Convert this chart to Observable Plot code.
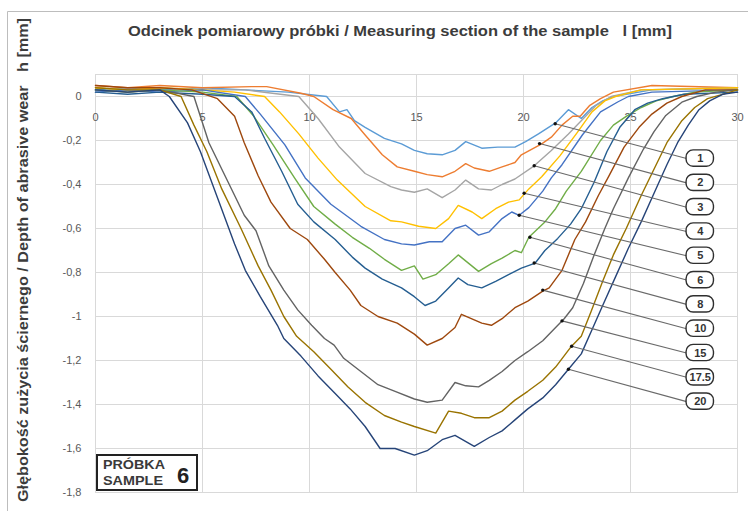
<!DOCTYPE html>
<html>
<head>
<meta charset="utf-8">
<script src="https://cdn.jsdelivr.net/npm/d3@7"></script>
<script src="https://cdn.jsdelivr.net/npm/@observablehq/plot@0.6"></script>
<style>
html, body { margin: 0; padding: 0; background: #fff; }
#chart { position: relative; width: 748px; height: 511px; overflow: hidden; }
</style>
</head>
<body>
<div id="chart"></div>
<script>
// ---- data ----
const seriesNames = ["1", "2", "3", "4", "5", "6", "8", "10", "15", "17.5", "20"];
const seriesColors = ["#5B9BD5", "#ED7D31", "#A5A5A5", "#FFC000", "#4472C4", "#70AD47",
                      "#255E91", "#9E480E", "#636363", "#997300", "#264478"];

const depth_1 = [[0,0.03],[1.5,0.04],[3,0.03],[5,0.04],[7,0.03],[9,0.02],[10.8,0.0],[11.4,-0.07],[11.75,-0.06],[12.1,-0.11],[12.6,-0.14],[13.5,-0.19],[14.3,-0.215],[14.9,-0.245],[15.5,-0.26],[16.2,-0.265],[16.8,-0.245],[17.3,-0.205],[18.05,-0.235],[18.8,-0.23],[19.6,-0.23],[20.1,-0.205],[20.7,-0.17],[21.5,-0.12],[22.1,-0.06],[22.7,-0.10],[23.2,-0.05],[23.7,-0.02],[24.2,0.0],[26,0.03],[30,0.04]];
const depth_2 = [[0,0.05],[1.5,0.04],[3,0.05],[5,0.04],[7.3,0.045],[8,0.045],[9.6,0.015],[10.2,0.0],[11.1,-0.06],[11.95,-0.10],[12.6,-0.175],[13.4,-0.265],[14.1,-0.32],[14.9,-0.34],[15.5,-0.355],[16.2,-0.365],[16.8,-0.34],[17.3,-0.305],[17.7,-0.325],[18.4,-0.34],[19.0,-0.32],[19.6,-0.30],[19.9,-0.265],[20.85,-0.215],[21.3,-0.185],[21.8,-0.13],[22.3,-0.09],[22.65,-0.09],[23.1,-0.04],[23.6,-0.01],[24.2,0.02],[26,0.05],[30,0.04]];
const depth_3 = [[0,0.04],[1.5,0.03],[3,0.04],[5,0.03],[7,0.03],[9.5,0.0],[10.4,-0.10],[11.4,-0.23],[12.6,-0.35],[13.8,-0.41],[14.3,-0.425],[14.9,-0.435],[15.5,-0.42],[16.2,-0.46],[16.8,-0.425],[17.3,-0.38],[17.9,-0.42],[18.5,-0.425],[19.0,-0.40],[19.6,-0.375],[20.5,-0.315],[21.3,-0.245],[22.1,-0.17],[22.8,-0.10],[23.4,-0.04],[24.1,0.0],[25.5,0.03],[30,0.04]];
const depth_4 = [[0,0.04],[1.5,0.03],[3,0.04],[5,0.03],[6.5,0.02],[7.9,0.0],[8.6,-0.07],[9.5,-0.17],[10.4,-0.28],[11.3,-0.38],[12.6,-0.50],[13.8,-0.565],[14.3,-0.57],[15.1,-0.59],[15.9,-0.60],[16.5,-0.555],[16.95,-0.495],[17.6,-0.525],[18.05,-0.555],[18.7,-0.51],[19.3,-0.48],[19.8,-0.47],[20.25,-0.42],[20.85,-0.365],[21.7,-0.27],[22.5,-0.165],[23.2,-0.07],[23.8,-0.02],[24.3,0.0],[25.5,0.03],[30,0.04]];
const depth_5 = [[0,0.02],[1.5,0.03],[3,0.02],[5,0.03],[7.0,0.0],[7.7,-0.08],[8.85,-0.22],[9.8,-0.37],[11.0,-0.49],[12.4,-0.59],[13.5,-0.65],[14.3,-0.67],[14.9,-0.675],[15.6,-0.66],[16.2,-0.66],[16.8,-0.60],[17.3,-0.585],[17.9,-0.63],[18.4,-0.615],[19.0,-0.555],[19.45,-0.525],[19.8,-0.54],[20.25,-0.505],[20.9,-0.43],[21.3,-0.37],[21.8,-0.31],[22.75,-0.175],[23.6,-0.07],[24.4,-0.025],[24.9,0.0],[26,0.02],[30,0.03]];
const depth_6 = [[0,0.03],[1.5,0.02],[3,0.03],[5,0.02],[6.6,0.0],[7.4,-0.09],[8.3,-0.22],[9.3,-0.37],[10.2,-0.50],[11.2,-0.58],[12.0,-0.64],[12.8,-0.69],[13.5,-0.74],[14.3,-0.79],[14.9,-0.77],[15.3,-0.83],[15.9,-0.81],[16.5,-0.76],[16.95,-0.72],[17.9,-0.795],[18.5,-0.76],[19.0,-0.735],[19.6,-0.70],[19.9,-0.71],[20.25,-0.64],[21.0,-0.57],[21.5,-0.51],[22.0,-0.43],[22.7,-0.34],[23.6,-0.20],[24.2,-0.13],[24.8,-0.09],[25.5,-0.05],[26.2,-0.02],[27.0,0.0],[28,0.02],[30,0.03]];
const depth_8 = [[0,0.02],[1.5,0.01],[3,0.02],[5,0.01],[6.5,0.0],[7.3,-0.07],[7.9,-0.19],[8.7,-0.34],[9.45,-0.49],[10.2,-0.57],[11.2,-0.65],[12.0,-0.73],[12.6,-0.78],[13.4,-0.83],[14.3,-0.87],[14.9,-0.91],[15.4,-0.95],[15.9,-0.93],[16.5,-0.87],[16.95,-0.825],[17.4,-0.855],[18.05,-0.87],[18.7,-0.84],[19.3,-0.81],[19.9,-0.78],[20.55,-0.757],[21.0,-0.70],[21.6,-0.645],[22.2,-0.58],[22.7,-0.51],[23.3,-0.39],[23.9,-0.25],[24.5,-0.14],[25.2,-0.06],[25.8,-0.03],[26.5,-0.01],[27.5,0.01],[30,0.02]];
const depth_10 = [[0,0.05],[1.5,0.04],[3,0.04],[4.5,0.03],[5.7,-0.01],[6.5,-0.09],[6.95,-0.21],[7.6,-0.36],[8.2,-0.48],[9.1,-0.60],[9.9,-0.65],[10.7,-0.74],[11.2,-0.80],[11.9,-0.88],[12.4,-0.95],[13.2,-1.0],[14.1,-1.03],[14.9,-1.08],[15.5,-1.13],[16.2,-1.10],[16.8,-1.05],[17.1,-0.99],[18.05,-1.03],[18.5,-1.04],[19.0,-1.01],[19.6,-0.96],[20.2,-0.93],[20.9,-0.885],[21.2,-0.87],[21.8,-0.79],[22.4,-0.65],[22.9,-0.57],[23.5,-0.45],[24.0,-0.36],[24.7,-0.23],[25.4,-0.14],[26.0,-0.08],[26.7,-0.03],[27.4,0.0],[28.5,0.03],[30,0.03]];
const depth_15 = [[0,0.03],[1.5,0.02],[3,0.03],[4.6,0.0],[5.3,-0.21],[6.2,-0.39],[6.95,-0.54],[7.5,-0.61],[8.1,-0.77],[8.8,-0.88],[9.45,-0.97],[10.1,-1.04],[10.7,-1.10],[11.15,-1.13],[11.6,-1.19],[12.4,-1.25],[13.2,-1.31],[14.0,-1.34],[14.9,-1.375],[15.5,-1.39],[16.2,-1.38],[16.8,-1.30],[17.3,-1.315],[17.9,-1.32],[18.4,-1.29],[19.0,-1.25],[19.6,-1.20],[20.2,-1.16],[20.9,-1.11],[21.5,-1.05],[21.9,-1.01],[22.3,-0.96],[22.8,-0.85],[23.3,-0.72],[23.8,-0.60],[24.2,-0.51],[24.9,-0.37],[25.6,-0.24],[26.1,-0.16],[26.65,-0.086],[27.4,-0.026],[28.1,0.0],[29,0.02],[30,0.03]];
const depth_17_5 = [[0,0.04],[1.5,0.03],[3,0.03],[4.0,0.0],[4.6,-0.13],[5.2,-0.25],[5.9,-0.42],[6.8,-0.60],[7.6,-0.77],[8.2,-0.88],[8.8,-1.0],[9.4,-1.09],[10.2,-1.16],[11.0,-1.24],[11.8,-1.32],[12.6,-1.39],[13.5,-1.45],[14.3,-1.48],[14.9,-1.50],[15.9,-1.53],[16.5,-1.43],[17.1,-1.44],[17.7,-1.46],[18.4,-1.46],[19.0,-1.43],[19.6,-1.38],[20.2,-1.34],[20.9,-1.29],[21.5,-1.23],[22.2,-1.14],[22.7,-1.09],[23.15,-0.98],[23.7,-0.84],[24.2,-0.72],[24.8,-0.60],[25.5,-0.45],[26.0,-0.35],[26.7,-0.21],[27.4,-0.11],[28.0,-0.05],[28.6,-0.01],[29.3,0.01],[30,0.03]];
const depth_20 = [[0,0.03],[1.5,0.02],[3,0.03],[3.45,0.0],[4.3,-0.12],[4.9,-0.25],[5.7,-0.46],[6.5,-0.67],[7.0,-0.79],[7.7,-0.91],[8.5,-1.04],[8.8,-1.10],[9.6,-1.18],[10.4,-1.27],[11.2,-1.35],[11.9,-1.42],[12.6,-1.50],[13.3,-1.60],[14.0,-1.60],[14.9,-1.63],[15.5,-1.61],[16.2,-1.56],[16.8,-1.54],[17.7,-1.59],[18.4,-1.55],[19.0,-1.52],[19.6,-1.47],[20.2,-1.42],[20.9,-1.37],[21.5,-1.31],[22.1,-1.24],[22.7,-1.17],[23.2,-1.06],[23.7,-0.95],[24.3,-0.82],[24.9,-0.69],[25.5,-0.57],[26.1,-0.44],[26.7,-0.31],[27.2,-0.21],[27.7,-0.13],[28.2,-0.06],[28.7,-0.02],[29.3,0.01],[30,0.02]];

// points on each curve where the leader line starts
const labelAnchors = [[21.48,-0.124],[20.75,-0.214],[20.5,-0.315],[20.03,-0.44],[19.8,-0.54],[20.3,-0.64],[20.5,-0.757],[20.9,-0.88],[21.8,-1.02],[22.25,-1.135],[22.1,-1.24]];

const xTicks = [0, 5, 10, 15, 20, 25, 30];
const xTickLabels = ["0", "5", "10", "15", "20", "25", "30"];
const yTicks = [0, -0.2, -0.4, -0.6, -0.8, -1, -1.2, -1.4, -1.6, -1.8];
const yTickLabels = ["0", "-0,2", "-0,4", "-0,6", "-0,8", "-1", "-1,2", "-1,4", "-1,6", "-1,8"];

const titleText = "Odcinek pomiarowy próbki / Measuring section of the sample   l [mm]";
const yTitleText = "Głębokość zużycia ściernego / Depth of abrasive wear   h [mm]";
const sampleLine1 = "PRÓBKA";
const sampleLine2 = "SAMPLE";
const sampleNumber = "6";

// ---- build table ----
const allSeries = [depth_1, depth_2, depth_3, depth_4, depth_5, depth_6, depth_8, depth_10, depth_15, depth_17_5, depth_20];
const rows = [];
allSeries.forEach((s, k) => s.forEach(([x, h]) => rows.push({series: seriesNames[k], x, h})));

// legend layout (in data units of the chart)
const legendX0 = 27.62, legendX1 = 28.9, legendXc = 28.26;
const legendTop = -0.282, legendStep = 0.1105, legendHalfH = 0.037;
const legendY = i => legendTop - legendStep * i;

const FONT = "'Liberation Sans', Arial, sans-serif";

const chart = Plot.plot({
  width: 748,
  height: 511,
  marginLeft: 95,
  marginRight: 11,
  marginTop: 74,
  marginBottom: 19,
  style: {fontFamily: FONT, background: "#fff", overflow: "visible"},
  x: {domain: [0, 30], axis: null},
  y: {domain: [-1.8, 0.1], axis: null},
  color: {domain: seriesNames, range: seriesColors},
  marks: [
    Plot.frame({stroke: "#d9d9d9"}),
    Plot.gridX(xTicks, {stroke: "#d9d9d9", strokeOpacity: 1}),
    Plot.gridY(yTicks, {stroke: "#d9d9d9", strokeOpacity: 1}),
    Plot.axisY(yTicks, {
      tickSize: 0, tickPadding: 14, label: null, fontSize: 11, fill: "#595959",
      tickFormat: d => yTickLabels[yTicks.findIndex(t => Math.abs(t - d) < 1e-9)]
    }),
    Plot.text(xTicks, {x: d => d, y: 0, dy: 21, text: (d, i) => xTickLabels[i], fontSize: 11, fill: "#595959"}),
    Plot.line(rows, {x: "x", y: "h", z: "series", stroke: "series", strokeWidth: 1.4, curve: "linear"}),
    Plot.link(labelAnchors, {x1: d => d[0], y1: d => d[1], x2: legendX0, y2: (d, i) => legendY(i), stroke: "#6a6a6a", strokeWidth: 1.1}),
    Plot.dot(labelAnchors, {x: d => d[0], y: d => d[1], r: 1.7, fill: "#111", stroke: null}),
    Plot.rect(seriesNames, {x1: legendX0, x2: legendX1, y1: (d, i) => legendY(i) - legendHalfH, y2: (d, i) => legendY(i) + legendHalfH,
      rx: 7, fill: "#fff", stroke: "#2f2f2f", strokeWidth: 1.4}),
    Plot.text(seriesNames, {x: legendXc, y: (d, i) => legendY(i), text: d => d, fontSize: 11, fontWeight: "bold", fill: "#333"})
  ]
});

document.getElementById("chart").appendChild(chart);

// ---- titles, frame and sample box (annotation text) ----
const svg = d3.select(chart);
svg.insert("path", ":first-child").attr("d", "M7.5,511V11.5H748")
  .attr("fill", "none").attr("stroke", "#bdbdbd").attr("stroke-width", 1);

svg.append("text")
  .attr("x", 400).attr("y", 36).attr("text-anchor", "middle")
  .attr("font-family", FONT).attr("font-size", 14).attr("font-weight", "bold").attr("fill", "#3c3c3c")
  .style("white-space", "pre")
  .attr("textLength", 544).attr("lengthAdjust", "spacingAndGlyphs")
  .text(titleText);

svg.append("text")
  .attr("transform", "translate(28,260) rotate(-90)")
  .attr("text-anchor", "middle")
  .attr("font-family", FONT).attr("font-size", 14).attr("font-weight", "bold").attr("fill", "#3c3c3c")
  .style("white-space", "pre")
  .attr("textLength", 484).attr("lengthAdjust", "spacingAndGlyphs")
  .text(yTitleText);

const box = svg.append("g").attr("text-anchor", "start");
box.append("rect").attr("x", 97).attr("y", 455).attr("width", 100).attr("height", 35)
  .attr("fill", "#fff").attr("stroke", "#222").attr("stroke-width", 2);
box.append("text").attr("x", 103).attr("y", 469).attr("text-anchor", "start").attr("font-family", FONT).attr("font-size", 12)
  .attr("font-weight", "bold").attr("fill", "#3a3a3a").attr("textLength", 62).attr("lengthAdjust", "spacingAndGlyphs").text(sampleLine1);
box.append("text").attr("x", 103).attr("y", 485).attr("text-anchor", "start").attr("font-family", FONT).attr("font-size", 12)
  .attr("font-weight", "bold").attr("fill", "#3a3a3a").attr("textLength", 60).attr("lengthAdjust", "spacingAndGlyphs").text(sampleLine2);
box.append("text").attr("x", 183).attr("y", 483).attr("text-anchor", "middle").attr("font-family", FONT).attr("font-size", 22)
  .attr("font-weight", "bold").attr("fill", "#222").text(sampleNumber);
</script>
</body>
</html>
